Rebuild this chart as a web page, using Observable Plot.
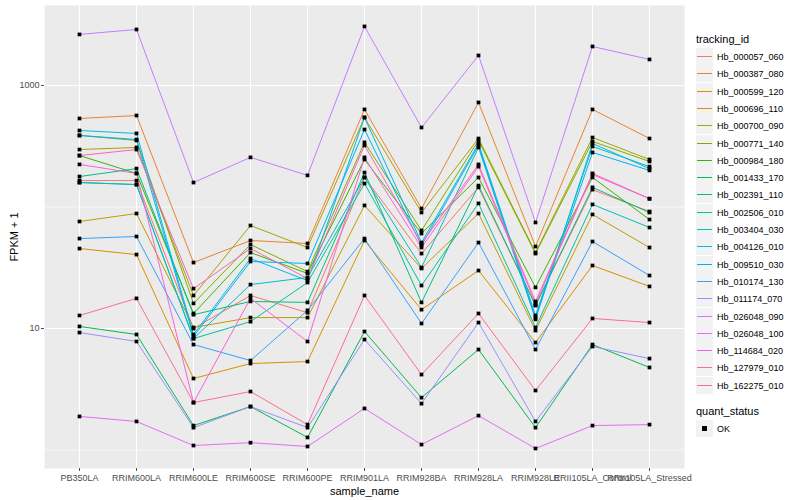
<!DOCTYPE html>
<html><head><meta charset="utf-8">
<script src="https://cdn.jsdelivr.net/npm/d3@7"></script>
<script src="https://cdn.jsdelivr.net/npm/@observablehq/plot@0.6"></script>
<style>
body{margin:0;background:#fff;font-family:"Liberation Sans",Arial,Helvetica,sans-serif;}
#wrap{position:relative;width:800px;height:500px;overflow:hidden;}
.lg-title{position:absolute;left:696px;font-size:11px;color:#000;white-space:nowrap;}
.lg-key{position:absolute;left:696px;width:17px;height:17px;background:#F2F2F2;}
.lg-line{position:absolute;left:1px;right:1px;top:8px;height:1px;}
.lg-lab{position:absolute;left:717px;font-size:9px;color:#000;white-space:nowrap;line-height:10px;}
.lg-sq{position:absolute;left:6px;top:6px;width:5px;height:5px;background:#000;}
</style></head><body><div id="wrap"></div>
<script>
const samples = ["PB350LA","RRIM600LA","RRIM600LE","RRIM600SE","RRIM600PE","RRIM901LA","RRIM928BA","RRIM928LA","RRIM928LE","RRII105LA_Control","RRII105LA_Stressed"];
const trackingIds = ["Hb_000057_060","Hb_000387_080","Hb_000599_120","Hb_000696_110","Hb_000700_090","Hb_000771_140","Hb_000984_180","Hb_001433_170","Hb_002391_110","Hb_002506_010","Hb_003404_030","Hb_004126_010","Hb_009510_030","Hb_010174_130","Hb_011174_070","Hb_026048_090","Hb_026048_100","Hb_114684_020","Hb_127979_010","Hb_162275_010"];
const palette = ["#F8766D","#EA8331","#D89000","#C09B00","#A3A500","#7CAE00","#39B600","#00BB4E","#00BF7D","#00C1A3","#00BFC4","#00BAE0","#00B0F6","#35A2FF","#9590FF","#C77CFF","#E76BF3","#FA62DB","#FF62BC","#FF6C91"];
// FPKM + 1, one row per tracking_id, columns follow samples
const fpkm = [
 [165,165,10.0,18.7,13.5,175,41.4,145,15.5,139,91.8],
 [535,566,34.9,53.0,50.1,635,97.2,725,47.3,635,366],
 [45.5,40.6,3.88,5.15,5.35,53.0,14.3,30.0,7.67,33.0,22.2],
 [76.0,88.4,10.2,12.3,12.3,103,31.2,88.4,9.63,86.8,46.4],
 [297,309,18.7,70.4,46.4,545,90.1,366,42.2,373,246],
 [388,353,16.1,49.1,29.4,340,64.1,353,41.4,346,237],
 [265,189,13.3,42.2,28.4,246,60.5,175,21.8,175,78.9],
 [10.4,8.93,1.59,2.28,1.27,9.45,2.70,6.72,1.53,7.38,4.78],
 [178,207,13.0,16.7,16.4,192,16.4,150,15.5,145,90.1],
 [159,153,8.27,11.4,23.9,156,22.6,107,10.2,105,67.8],
 [159,153,8.27,23.0,26.3,175,31.8,309,11.9,333,207],
 [426,403,8.93,37.7,24.8,545,51.0,333,12.8,315,215],
 [388,359,8.59,35.6,34.3,434,48.2,321,12.3,281,200],
 [55.0,57.2,7.38,5.45,14.1,55.0,11.0,51.0,6.72,52.0,27.3],
 [9.27,7.82,1.53,2.28,1.53,8.12,2.41,11.2,1.72,7.11,5.66],
 [2630,2890,159,256,182,3060,451,1766,74.6,2094,1637],
 [1.89,1.72,1.09,1.15,1.07,2.20,1.11,1.92,1.03,1.59,1.62],
 [224,189,2.46,17.7,7.82,256,46.4,215,16.1,185,117],
 [265,297,21.3,45.5,25.8,321,50.1,224,16.7,189,117],
 [12.8,17.7,2.46,3.03,1.62,18.7,4.18,13.3,3.09,12.1,11.2]
];
const yTicks = [10, 1000];
const yMinor = [1, 100];
const statusLevels = ["OK"];

const data = trackingIds.flatMap((id, i) => samples.map((s, j) => ({id, sample: s, value: fpkm[i][j], status: statusLevels[0]})));

const font = '"Liberation Sans",Arial,Helvetica,sans-serif';
const chart = Plot.plot({
  width: 800, height: 500,
  marginLeft: 44, marginRight: 116, marginTop: 5, marginBottom: 32,
  style: {fontFamily: font, fontSize: "9px", background: "white", color: "#000"},
  x: {type: "point", domain: samples, padding: 0.6},
  y: {type: "log", domain: [0.705, 4550]},
  color: {domain: trackingIds, range: palette},
  marks: [
    Plot.frame({fill: "#EBEBEB", stroke: null}),
    Plot.ruleY(yMinor, {stroke: "white", strokeWidth: 0.6}),
    Plot.ruleY(yTicks, {stroke: "white", strokeWidth: 1.1}),
    Plot.ruleX(samples, {stroke: "white", strokeWidth: 1.1}),
    Plot.line(data, {x: "sample", y: "value", z: "id", stroke: "id", strokeWidth: 1}),
    Plot.dot(data, {x: "sample", y: "value", fill: "black", stroke: null, r: 2.1, symbol: "square"}),
    Plot.axisX({tickSize: 3, tickPadding: 3, color: "#4D4D4D", label: "sample_name", labelAnchor: "center", labelOffset: 26, fontSize: 9}),
    Plot.axisY({ticks: yTicks, tickFormat: d => String(d), tickSize: 3, tickPadding: 2, color: "#4D4D4D", label: "FPKM + 1", labelAnchor: "center", labelOffset: 34, labelArrow: "none", fontSize: 9})
  ]
});
const wrap = document.getElementById("wrap");
wrap.appendChild(chart);
chart.querySelectorAll('g[aria-label="x-axis label"] text, g[aria-label="y-axis label"] text').forEach(t => { t.setAttribute("font-size", "11"); t.setAttribute("fill", "#000"); });

// legend
function add(html) { wrap.insertAdjacentHTML("beforeend", html); }
add(`<div class="lg-title" style="top:33px">tracking_id</div>`);
trackingIds.forEach((id, i) => {
  const top = Math.round(48 + 17.3 * i);
  add(`<div class="lg-key" style="top:${top}px"><div class="lg-line" style="background:${palette[i]}"></div></div>`);
  add(`<div class="lg-lab" style="top:${top + 4}px">${id}</div>`);
});
add(`<div class="lg-title" style="top:405px">quant_status</div>`);
statusLevels.forEach((s, i) => {
  const top = 420 + 17 * i;
  add(`<div class="lg-key" style="top:${top}px"><div class="lg-sq"></div></div>`);
  add(`<div class="lg-lab" style="top:${top + 4}px">${s}</div>`);
});
</script></body></html>
